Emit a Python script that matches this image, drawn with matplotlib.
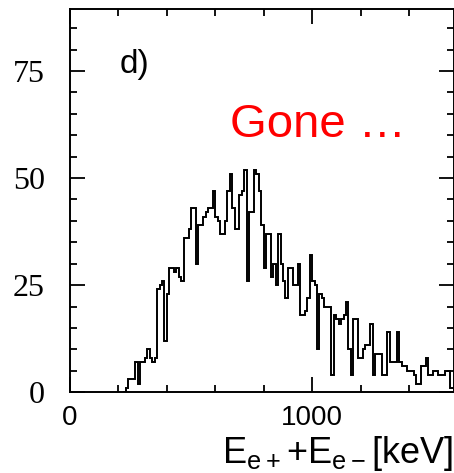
import matplotlib
matplotlib.use("Agg")
import matplotlib.pyplot as plt
import numpy as np

# histogram, 10 keV bins starting at 220 keV
BIN_START = 220
BIN_WIDTH = 10
counts = [
    0, 1, 3, 3, 3, 7, 2, 7, 7, 8,
    10, 8, 7, 8, 24, 25, 26, 12, 23, 29,
    29, 28, 29, 27, 26, 36, 36, 38, 43, 43,
    30, 39, 39, 41, 42, 43, 43, 47, 41, 40,
    37, 37, 40, 47, 51, 43, 38, 38, 46, 47,
    52, 26, 42, 42, 52, 51, 47, 39, 29, 37,
    37, 27, 30, 25, 37, 30, 26, 22, 29, 29,
    25, 25, 30, 18, 18, 19, 22, 32, 26, 25,
    10, 23, 22, 20, 20, 20, 4, 18, 17, 16,
    17, 18, 21, 10, 4, 17, 17, 8, 8, 10,
    11, 11, 16, 4, 9, 9, 9, 4, 4, 14,
    7, 7, 7, 14, 7, 6, 6, 5, 5, 5,
    4, 2, 2, 6, 6, 8, 4, 4, 5, 5,
    4, 4, 4, 5, 5, 1, 1,
]
edges = BIN_START + BIN_WIDTH * np.arange(len(counts) + 1)

x_major = [0, 1000]
x_labels = ["0", "1000"]
y_major = [0, 25, 50, 75]
y_labels = ["0", "25", "50", "75"]

fig = plt.figure(figsize=(4.54, 4.73), dpi=100)
ax = fig.add_axes([0.154, 0.171, 0.846, 0.810])

ax.stairs(counts, edges, color="black", linewidth=1.4)

ax.set_xlim(0, 1586)
ax.set_ylim(0, 89.5)

ax.set_xticks(x_major)
ax.set_xticklabels(x_labels, fontsize=20, family="Liberation Sans")
ax.set_xticks(np.arange(200, 1600, 200), minor=True)
ax.set_yticks(y_major)
ax.set_yticklabels(y_labels, fontsize=23, family="Liberation Serif")
ax.set_yticks(np.arange(5, 90, 5), minor=True)

ax.tick_params(which="both", direction="in", top=True, right=True, width=1.3)
ax.tick_params(which="major", length=10.5)
ax.tick_params(which="minor", length=5)
ax.tick_params(axis="y", which="major", pad=18)
ax.tick_params(axis="x", which="major", pad=9)

for spine in ax.spines.values():
    spine.set_linewidth(1.4)

ax.text(205, 76.5, "d)", fontsize=24, family="Liberation Sans", va="center")
ax.text(661, 59.6, "Gone \u2026", fontsize=34, family="Liberation Sans",
        color="#ff0000", va="baseline")

fig.text(0.998, 0.0, r"E$_\mathregular{e+}$+E$_\mathregular{e-}$[keV]",
         fontsize=26, family="Liberation Sans", ha="right", va="bottom")

fig.savefig("out.png", dpi=100)
